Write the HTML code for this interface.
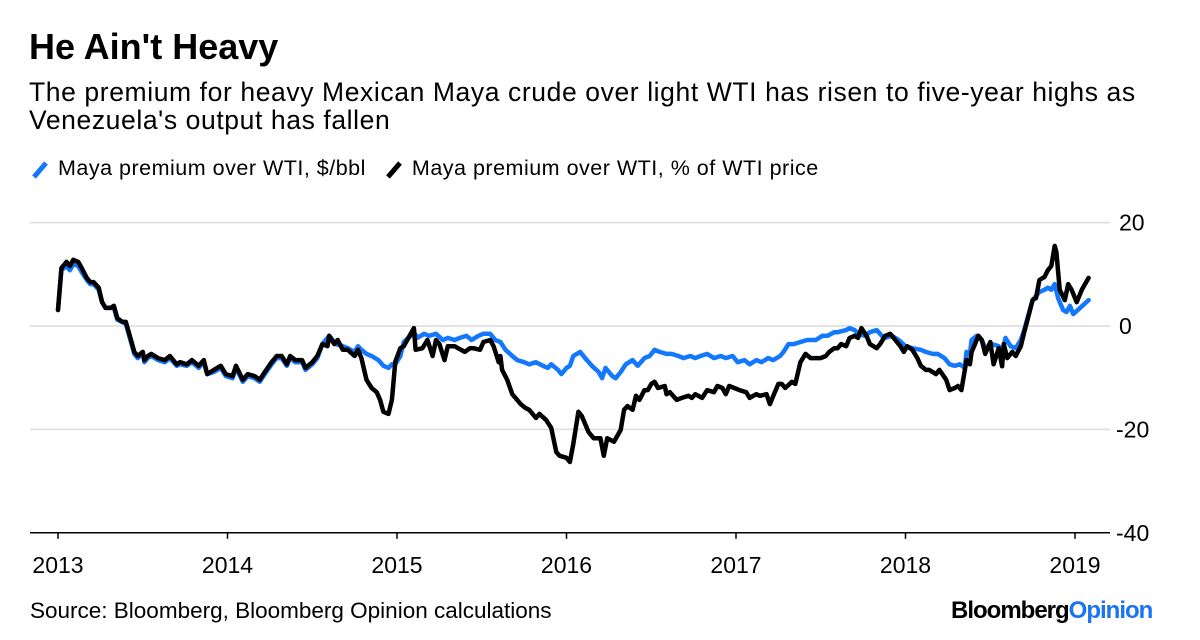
<!DOCTYPE html>
<html><head><meta charset="utf-8"><style>
body{margin:0;width:1200px;height:640px;background:#fff;font-family:"Liberation Sans",Arial,sans-serif;overflow:hidden;position:relative}
.t{position:absolute;color:#000;white-space:nowrap}
</style></head><body>
<div class="t" style="left:29px;top:26px;font-size:36px;font-weight:bold;letter-spacing:0px">He Ain't Heavy</div>
<div class="t" style="left:29px;top:78px;font-size:26.5px;line-height:28px;letter-spacing:0.6px">The premium for heavy Mexican Maya crude over light WTI has risen to five-year highs as<br>Venezuela's output has fallen</div>
<div style="position:absolute;left:30px;top:156px;font-size:21.5px;letter-spacing:0.5px;display:flex;align-items:center">
 <div style="display:flex;align-items:center"><svg width="24" height="24"><line x1="4" y1="20" x2="16" y2="6" stroke="#1478ff" stroke-width="5"/></svg><span style="margin-left:4px">Maya premium over WTI, $/bbl</span></div>
 <div style="display:flex;align-items:center;margin-left:18px"><svg width="24" height="24"><line x1="4" y1="20" x2="16" y2="6" stroke="#000" stroke-width="5"/></svg><span style="margin-left:4px">Maya premium over WTI, % of WTI price</span></div>
</div>
<svg id="chart" width="1200" height="640" style="position:absolute;left:0;top:0" font-family="Liberation Sans, Arial, sans-serif"></svg>
<div class="t" style="left:30px;top:598px;font-size:22.5px">Source: Bloomberg, Bloomberg Opinion calculations</div>
<div class="t" style="left:951px;top:597px;font-size:24px;font-weight:bold;letter-spacing:-1px">Bloomberg<span style="color:#1a73f0">Opinion</span></div>
<script>
const yTicks=[20,0,-20,-40];
const xYears=[2013,2014,2015,2016,2017,2018,2019];
const pctT=[0,.02,.05,.07,.09,.12,.14,.17,.19,.21,.24,.26,.28,.31,.33,.35,.38,.40,.42,.45,.47,.50,.51,.53,.55,.59,.63,.66,.70,.72,.76,.79,.83,.86,.88,.92,.96,.99,1.03,1.05,1.09,1.12,1.16,1.19,1.22,1.26,1.29,1.32,1.35,1.37,1.40,1.44,1.46,1.50,1.53,1.56,1.59,1.60,1.63,1.65,1.68,1.71,1.75,1.77,1.79,1.82,1.85,1.88,1.90,1.92,1.95,1.97,1.99,2.02,2.04,2.06,2.10,2.11,2.15,2.18,2.21,2.23,2.25,2.28,2.30,2.34,2.36,2.40,2.43,2.45,2.49,2.51,2.55,2.57,2.60,2.61,2.62,2.65,2.68,2.73,2.76,2.78,2.82,2.84,2.88,2.91,2.94,2.96,3.00,3.02,3.04,3.07,3.09,3.13,3.16,3.20,3.22,3.24,3.28,3.32,3.34,3.36,3.39,3.41,3.43,3.46,3.48,3.50,3.52,3.54,3.58,3.59,3.61,3.65,3.68,3.72,3.74,3.76,3.80,3.83,3.87,3.89,3.92,3.94,3.96,3.99,4.02,4.06,4.08,4.12,4.14,4.18,4.20,4.22,4.25,4.27,4.29,4.33,4.35,4.38,4.41,4.44,4.46,4.50,4.53,4.55,4.58,4.60,4.62,4.65,4.67,4.70,4.72,4.74,4.77,4.79,4.83,4.85,4.88,4.91,4.94,4.97,4.99,5.01,5.04,5.07,5.09,5.12,5.14,5.18,5.20,5.24,5.26,5.29,5.31,5.33,5.36,5.38,5.39,5.40,5.43,5.45,5.47,5.50,5.52,5.55,5.57,5.58,5.60,5.63,5.65,5.68,5.70,5.72,5.75,5.77,5.79,5.82,5.84,5.86,5.88,5.89,5.91,5.94,5.96,5.98,6.01,6.04,6.08];
const pctV=[3.1,11.2,12.4,11.6,12.8,12.4,11.2,9.3,8.5,8.5,7.4,4.6,3.5,3.5,3.9,1.5,0.8,0.8,-1.5,-5.0,-5.8,-5.0,-6.6,-5.8,-5.4,-6.2,-6.6,-5.8,-7.4,-7.0,-7.4,-6.6,-7.7,-6.6,-9.3,-8.5,-7.7,-9.3,-9.7,-7.7,-10.4,-9.3,-9.7,-10.4,-8.9,-7.0,-5.8,-5.8,-7.4,-5.8,-6.6,-6.6,-8.1,-7.0,-5.8,-3.5,-3.9,-1.9,-3.5,-2.7,-4.6,-4.6,-5.8,-4.6,-6.2,-10.4,-12.0,-12.8,-14.3,-16.6,-17.0,-14.3,-6.9,-4.3,-3.9,-2.7,-0.4,-4.6,-4.3,-2.7,-5.8,-2.7,-3.5,-6.6,-3.9,-3.9,-4.3,-5.0,-4.3,-4.3,-4.6,-3.1,-2.7,-3.9,-7.0,-5.8,-8.5,-10.4,-13.2,-15.1,-15.9,-16.2,-17.8,-17.0,-18.2,-19.7,-24.4,-25.1,-25.5,-26.3,-22.8,-16.6,-17.4,-20.5,-21.7,-21.7,-25.1,-21.7,-22.4,-20.1,-16.2,-15.5,-16.2,-13.5,-14.3,-12.4,-12.4,-11.2,-10.8,-12.0,-11.6,-13.2,-12.8,-14.3,-13.9,-13.5,-13.9,-13.2,-13.9,-12.4,-12.8,-11.6,-12.0,-13.2,-11.6,-12.0,-12.4,-12.8,-13.9,-13.2,-13.5,-13.2,-15.1,-13.5,-11.2,-11.2,-12.0,-10.8,-11.2,-7.0,-5.4,-6.2,-6.2,-6.2,-5.8,-5.0,-4.3,-4.3,-3.5,-3.9,-2.3,-1.9,-2.3,-0.4,-1.9,-3.5,-4.3,-3.5,-1.9,-1.5,-2.7,-3.9,-5.0,-3.9,-4.6,-6.2,-7.7,-8.5,-8.5,-9.3,-8.5,-10.4,-12.4,-12.0,-11.6,-12.4,-6.6,-7.4,-5.0,-4.3,-1.9,-2.7,-5.4,-3.1,-7.4,-4.3,-7.8,-3.5,-6.2,-5.0,-5.8,-3.9,-1.2,1.2,5.0,5.4,8.9,9.5,10.8,11.6,15.5,14.3,7.0,5.0,8.1,7.0,4.6,7.0,9.3];
const usdT=[0,.02,.05,.07,.09,.12,.14,.17,.19,.21,.24,.26,.28,.31,.33,.35,.38,.40,.42,.45,.47,.50,.51,.53,.55,.59,.63,.66,.70,.72,.76,.79,.83,.86,.88,.92,.96,.99,1.03,1.05,1.09,1.12,1.16,1.19,1.22,1.26,1.29,1.32,1.35,1.37,1.40,1.44,1.46,1.50,1.53,1.56,1.60,1.64,1.68,1.71,1.75,1.77,1.79,1.82,1.85,1.89,1.92,1.95,1.97,1.99,2.02,2.04,2.08,2.10,2.12,2.16,2.19,2.23,2.27,2.30,2.34,2.37,2.41,2.44,2.48,2.51,2.55,2.58,2.61,2.64,2.68,2.71,2.75,2.78,2.82,2.86,2.89,2.91,2.95,2.97,3.00,3.02,3.04,3.08,3.12,3.15,3.19,3.21,3.23,3.27,3.29,3.32,3.35,3.39,3.42,3.46,3.49,3.52,3.55,3.59,3.62,3.66,3.69,3.73,3.76,3.79,3.83,3.87,3.91,3.94,3.98,4.01,4.05,4.08,4.12,4.15,4.19,4.22,4.26,4.28,4.31,4.34,4.38,4.42,4.47,4.51,4.54,4.58,4.60,4.65,4.67,4.70,4.72,4.76,4.79,4.83,4.86,4.88,4.92,4.96,5.00,5.04,5.09,5.12,5.16,5.19,5.23,5.26,5.29,5.32,5.35,5.36,5.38,5.39,5.42,5.45,5.47,5.51,5.55,5.57,5.59,5.62,5.65,5.68,5.70,5.72,5.75,5.77,5.79,5.82,5.84,5.86,5.88,5.90,5.93,5.95,5.97,5.99,6.03,6.08];
const usdV=[3.1,10.8,11.6,10.8,12.0,11.6,10.4,8.9,8.1,8.1,7.0,4.6,3.5,3.5,3.5,1.2,0.8,0.4,-1.9,-5.4,-6.2,-5.4,-7.0,-6.2,-5.8,-6.6,-7.0,-6.2,-7.7,-7.4,-7.7,-7.0,-8.1,-7.0,-9.3,-8.9,-8.1,-9.7,-10.1,-8.1,-10.8,-9.7,-10.1,-10.8,-9.3,-7.4,-6.2,-6.2,-7.7,-6.2,-7.0,-7.0,-8.5,-7.4,-6.2,-3.5,-1.9,-3.5,-3.9,-4.3,-5.0,-3.9,-4.6,-5.4,-5.8,-6.6,-7.7,-8.1,-7.4,-7.4,-5.8,-3.1,-1.9,-1.2,-2.3,-1.5,-1.9,-1.5,-2.7,-2.3,-2.7,-2.3,-1.9,-2.7,-1.9,-1.5,-1.5,-2.7,-3.1,-4.6,-5.8,-6.6,-7.0,-7.4,-7.0,-7.7,-8.1,-7.4,-8.5,-9.3,-8.1,-7.7,-5.8,-5.0,-6.6,-7.7,-8.9,-10.1,-8.1,-9.7,-10.1,-8.9,-7.4,-6.6,-7.7,-6.2,-5.8,-4.6,-5.0,-5.4,-5.4,-5.8,-6.2,-5.8,-6.2,-5.8,-5.4,-6.2,-5.8,-6.2,-5.8,-7.0,-6.6,-7.4,-6.6,-7.0,-6.2,-6.6,-5.8,-5.0,-3.5,-3.5,-3.1,-2.7,-2.7,-1.9,-1.9,-1.2,-1.2,-0.8,-0.4,-0.8,-1.5,-1.9,-1.2,-0.8,-1.9,-2.3,-1.9,-2.7,-3.9,-4.3,-4.6,-5.0,-5.4,-5.4,-6.2,-7.4,-7.7,-7.4,-8.1,-5.0,-5.4,-2.7,-1.9,-2.7,-4.3,-3.5,-3.9,-5.0,-2.3,-3.9,-4.3,-2.7,-0.8,1.5,5.0,5.8,6.6,7.0,7.4,7.0,8.1,5.4,3.1,2.7,3.9,2.3,3.5,5.0];

const NS='http://www.w3.org/2000/svg';
const svg=document.getElementById('chart');
const X0=58,PXY=169.5,Y0=326,PXV=5.17;
const xs=y=>X0+(y-2013)*PXY;
const ys=v=>Y0-v*PXV;
function mk(tag,at){const e=document.createElementNS(NS,tag);for(const k in at)e.setAttribute(k,at[k]);svg.appendChild(e);return e;}
yTicks.forEach(v=>{
  if(v>-40){const g=mk('line',{x1:30,x2:1110,y1:ys(v),y2:ys(v),stroke:'#dcdcdc','stroke-width':1.5});
  
  }
  const t=mk('text',{x:v<0?1116:1119,y:ys(v)+8,'font-size':23,fill:'#000'});t.textContent=v;
  
  
});
const ax=mk('line',{x1:30,x2:1110,y1:ys(-40),y2:ys(-40),stroke:'#000','stroke-width':1.5});


xYears.forEach(yr=>{
  const x=xs(yr);
  const tk=mk('line',{x1:x,x2:x,y1:ys(-40),y2:ys(-40)+6,stroke:'#000','stroke-width':1.5});
  
  
  const t=mk('text',{x:x,y:ys(-40)+40,'font-size':23,'text-anchor':'middle',fill:'#000'});t.textContent=yr;
  
  
});
function line(T,V,color,name){
  const d=T.map((t,i)=>(i?'L':'M')+xs(2013+t).toFixed(1)+','+ys(V[i]).toFixed(1)).join('');
  const p=mk('path',{d:d,fill:'none',stroke:color,'stroke-width':4.5,'stroke-linejoin':'round','stroke-linecap':'round'});
  
  
}
line(usdT,usdV,'#1478ff','series-usd-line');
line(pctT,pctV,'#000','series-pct-line');
</script>
</body></html>
